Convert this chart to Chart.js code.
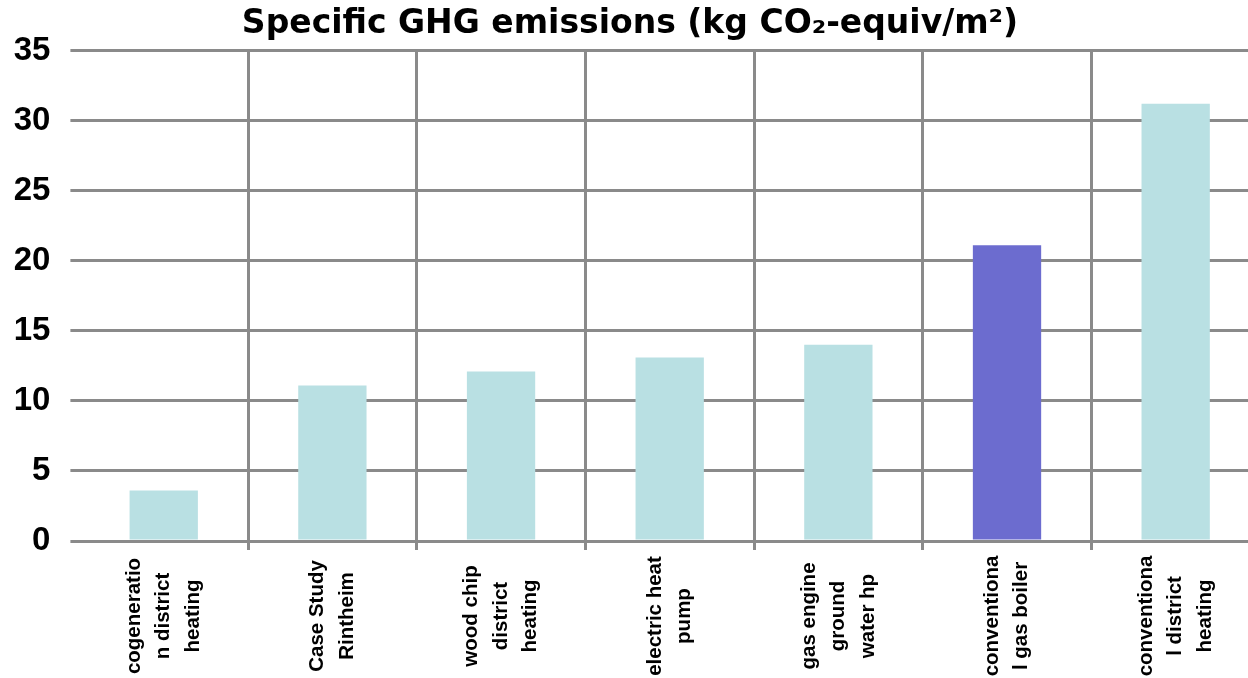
<!DOCTYPE html>
<html>
<head>
<meta charset="utf-8">
<title>Specific GHG emissions</title>
<script src="https://cdn.jsdelivr.net/npm/chart.js@4/dist/chart.umd.min.js"></script>
<style>
  html, body { margin: 0; padding: 0; background: #ffffff; overflow: hidden; }
  #wrap { width: 1248px; height: 678px; overflow: hidden; }
  canvas { display: block; }
</style>
</head>
<body>
<div id="wrap"><canvas id="chart" width="1260" height="678"></canvas></div>
<script>
// Heating systems compared (each label is split into the lines it is printed on)
const systems = [
  ['cogeneratio', 'n district', 'heating'],
  ['Case Study', 'Rintheim'],
  ['wood chip', 'district', 'heating'],
  ['electric heat', 'pump'],
  ['gas engine', 'ground', 'water hp'],
  ['conventiona', 'l gas boiler'],
  ['conventiona', 'l district', 'heating']
];

// Specific GHG emissions, kg CO2-equivalent per m²
const emissions = [3.6, 11.1, 12.1, 13.1, 14.0, 21.1, 31.2];

// Y axis range and step
const yTicks = { min: 0, max: 35, step: 5 };

const chartTitle = 'Specific GHG emissions (kg CO\u2082-equiv/m\u00B2)';

const baseColor = '#B9E0E3';
const highlightColor = '#6C6CCF';
const highlightIndex = 5;
const gridColor = '#8a8a8a';

// Category labels: rotated, each line centred on a common line across the bar's slot
const categoryLabels = {
  id: 'categoryLabels',
  afterDraw(chart) {
    const xs = chart.scales.x;
    const ctx = chart.ctx;
    const lineGap = 29.5;
    const centerY = 616;
    ctx.save();
    ctx.fillStyle = '#000000';
    ctx.font = 'bold 20.5px "Liberation Sans", Arial, sans-serif';
    ctx.textAlign = 'center';
    ctx.textBaseline = 'middle';
    systems.forEach((lines, i) => {
      const x = xs.getPixelForValue(i);
      const n = lines.length;
      lines.forEach((line, j) => {
        const cx = x + (j - (n - 1) / 2) * lineGap;
        ctx.save();
        ctx.translate(cx, centerY);
        ctx.rotate(-Math.PI / 2);
        ctx.fillText(line, 0, 0);
        ctx.restore();
      });
    });
    ctx.restore();
  }
};

new Chart(document.getElementById('chart'), {
  type: 'bar',
  data: {
    labels: systems.map(l => l.join(' ')),
    datasets: [{
      data: emissions,
      backgroundColor: emissions.map((_, i) => i === highlightIndex ? highlightColor : baseColor),
      borderWidth: 0,
      categoryPercentage: 1.0,
      barPercentage: 0.405
    }]
  },
  options: {
    responsive: false,
    animation: false,
    layout: { padding: { left: 0, right: 0, top: 0, bottom: 128 } },
    plugins: {
      legend: { display: false },
      tooltip: { enabled: false },
      title: {
        display: true,
        text: chartTitle,
        color: '#000000',
        font: { family: '"DejaVu Sans", Verdana, sans-serif', size: 33, weight: 'bold' },
        padding: { top: 5, bottom: 6 }
      }
    },
    scales: {
      x: {
        border: { display: false },
        grid: {
          offset: true,
          lineWidth: 3,
          color: (c) => c.index === 0 ? 'rgba(0,0,0,0)' : gridColor,
          tickColor: (c) => c.index === 0 ? 'rgba(0,0,0,0)' : gridColor,
          drawTicks: true,
          tickLength: 9
        },
        ticks: { display: false }
      },
      y: {
        min: yTicks.min,
        max: yTicks.max,
        border: { display: false },
        afterFit(scale) { scale.width = 79.4; },
        grid: {
          lineWidth: 3,
          color: gridColor,
          drawTicks: true,
          tickLength: 9
        },
        ticks: {
          stepSize: yTicks.step,
          padding: 20,
          color: '#000000',
          font: { family: '"Liberation Sans", Arial, sans-serif', size: 33, weight: 'bold' }
        }
      }
    }
  },
  plugins: [categoryLabels]
});
</script>
</body>
</html>
